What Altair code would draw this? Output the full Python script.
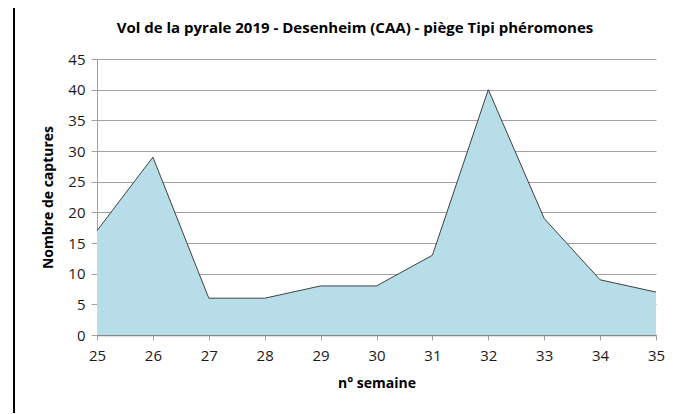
import altair as alt
import pandas as pd

semaines = [25, 26, 27, 28, 29, 30, 31, 32, 33, 34, 35]
captures = [17, 29, 6, 6, 8, 8, 13, 40, 19, 9, 7]
titre = "Vol de la pyrale 2019 - Desenheim (CAA) - piège Tipi phéromones"

df = pd.DataFrame({"semaine": semaines, "captures": captures})
FONT = "Open Sans"

base = alt.Chart(df)

area = base.mark_area(
    color="#b7dde8", line={"color": "#404040", "strokeWidth": 1}, opacity=1
).encode(
    x=alt.X("semaine:Q", title="n° semaine",
            scale=alt.Scale(domain=[25, 35], nice=False, zero=False),
            axis=alt.Axis(values=semaines, grid=False, format="d",
                          tickColor="#a0a0a0", domainColor="#888888",
                          domainWidth=1.5, tickSize=5, labelPadding=8,
                          titlePadding=13, labelFlush=False,
                          labelFont=FONT, titleFont=FONT, labelFontSize=15,
                          titleFontSize=14, labelColor="#1a1a1a",
                          titleColor="#000000", titleFontWeight="bold")),
    y=alt.Y("captures:Q", title="Nombre de captures",
            scale=alt.Scale(domain=[0, 45], nice=False),
            axis=alt.Axis(values=list(range(0, 50, 5)), gridColor="#a0a0a0",
                          domainColor="#a0a0a0", tickColor="#a0a0a0",
                          tickSize=6, labelPadding=6, titlePadding=12,
                          labelFont=FONT, titleFont=FONT, labelFontSize=15,
                          titleFontSize=14, labelColor="#1a1a1a",
                          titleColor="#000000", titleFontWeight="bold")),
)

edge = base.mark_rule(color="#000000", strokeWidth=1.5).encode(
    x=alt.value(-83), y=alt.value(-55), y2=alt.value(354)
)

title_text = alt.Chart(pd.DataFrame({"t": [titre]})).mark_text(
    font=FONT, fontSize=15, fontWeight="bold", color="#000000",
    align="center", baseline="alphabetic"
).encode(text="t:N", x=alt.value(258), y=alt.value(-26))

chart = alt.layer(area, edge, title_text).properties(
    width=559, height=276,
    autosize=alt.AutoSizeParams(type="none"),
    padding={"left": 89, "top": 51, "right": 13, "bottom": 79},
).configure_view(stroke=None)

chart.save("out.html", embed_options={"renderer": "svg", "actions": False})
